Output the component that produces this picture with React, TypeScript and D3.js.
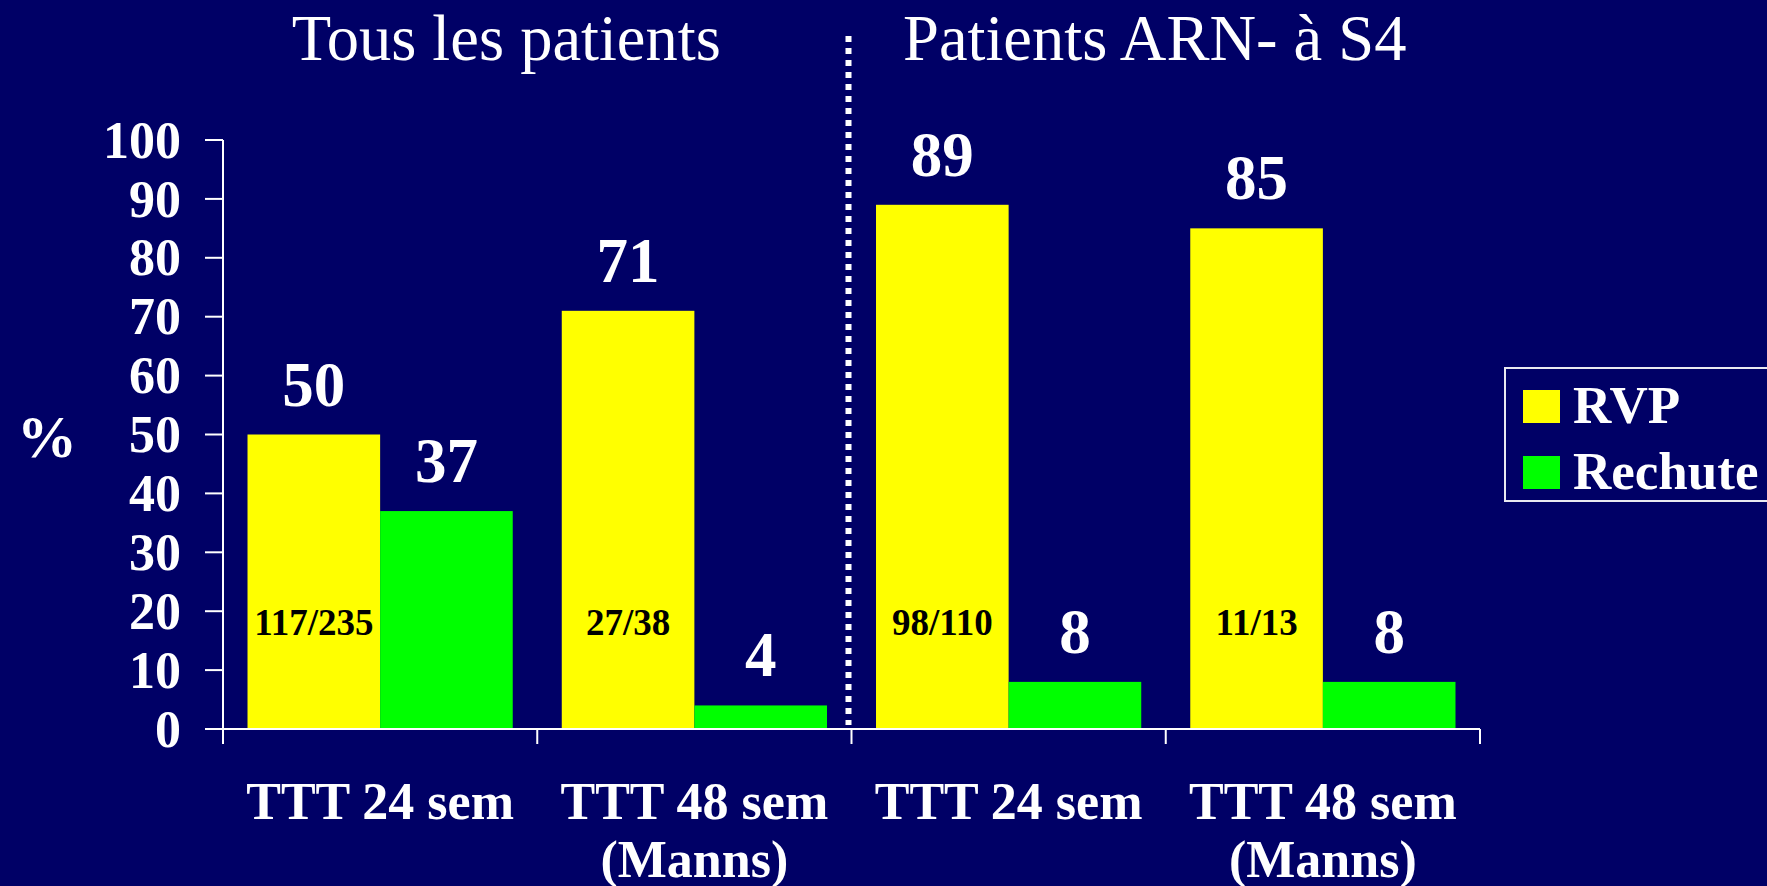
import React from "react";
import * as d3 from "d3";

const categories: string[][] = [
  ["TTT 24 sem"],
  ["TTT 48 sem", "(Manns)"],
  ["TTT 24 sem"],
  ["TTT 48 sem", "(Manns)"],
];
const seriesNames = ["RVP", "Rechute"];
const rvp = [50, 71, 89, 85];
const rechute = [37, 4, 8, 8];
const fractions = ["117/235", "27/38", "98/110", "11/13"];
const yTicks = [0, 10, 20, 30, 40, 50, 60, 70, 80, 90, 100];
const panelTitles = ["Tous les patients", "Patients ARN- à S4"];

const W = 1767;
const H = 886;
const BG = "#000066";
const COLORS = ["#FFFF00", "#00FF00"];
const SERIF = "'Liberation Serif', 'Times New Roman', serif";

export default function App() {
  const x = d3
    .scaleBand<number>()
    .domain(categories.map((_, i) => i))
    .range([223, 1480])
    .paddingInner(0)
    .paddingOuter(0);
  const bw = x.bandwidth();
  const xs = d3
    .scaleBand<number>()
    .domain([0, 1])
    .range([bw * 0.078, bw * 0.922])
    .padding(0);
  const y = d3.scaleLinear().domain([0, 100]).range([729, 140]);

  const series = [rvp, rechute];
  const x0 = x.range()[0];
  const x1 = x.range()[1];
  const y0 = y(0);

  const boundaries = [...categories.map((_, i) => x(i)!), x1];
  const dividerX = x(2)! - 3;

  const titleX = [
    (x(0)! + x(1)! + bw) / 2 - 31,
    (x(2)! + x(3)! + bw) / 2 - 11,
  ];

  return (
    <div style={{ position: "fixed", left: 0, top: 0, width: W, height: H }}>
      <svg width={W} height={H} style={{ display: "block" }}>
        <rect x={0} y={0} width={W} height={H} fill={BG} />

        {/* titles */}
        {panelTitles.map((t, i) => (
          <text
            key={"t" + i}
            x={titleX[i]}
            y={60}
            textAnchor="middle"
            fill="#fff"
            fontFamily={SERIF}
            fontSize={64.5}
          >
            {t}
          </text>
        ))}

        {/* bars */}
        {series.map((vals, s) =>
          vals.map((v, i) => (
            <rect
              key={`b${s}-${i}`}
              x={x(i)! + xs(s)!}
              y={y(v)}
              width={xs.bandwidth()}
              height={y0 - y(v)}
              fill={COLORS[s]}
            />
          ))
        )}

        {/* value labels */}
        {series.map((vals, s) =>
          vals.map((v, i) => (
            <text
              key={`v${s}-${i}`}
              x={x(i)! + xs(s)! + xs.bandwidth() / 2}
              y={y(v) - 29}
              textAnchor="middle"
              fill="#fff"
              fontFamily={SERIF}
              fontWeight="bold"
              fontSize={63}
            >
              {v}
            </text>
          ))
        )}

        {/* fraction labels */}
        {fractions.map((f, i) => (
          <text
            key={"f" + i}
            x={x(i)! + xs(0)! + xs.bandwidth() / 2}
            y={y(16)}
            textAnchor="middle"
            fill="#000"
            fontFamily={SERIF}
            fontWeight="bold"
            fontSize={37}
          >
            {f}
          </text>
        ))}

        {/* dotted divider */}
        <line
          x1={dividerX}
          x2={dividerX}
          y1={36}
          y2={y0 - 4}
          stroke="#fff"
          strokeWidth={6}
          strokeDasharray="6 6"
        />

        {/* axes */}
        <line x1={x0} x2={x0} y1={y(100)} y2={y0 + 15} stroke="#fff" strokeWidth={2} />
        <line x1={x0} x2={x1} y1={y0} y2={y0} stroke="#fff" strokeWidth={2} />
        {boundaries.map((b, i) => (
          <line key={"xt" + i} x1={b} x2={b} y1={y0} y2={y0 + 15} stroke="#fff" strokeWidth={2} />
        ))}
        {yTicks.map((t) => (
          <g key={"yt" + t}>
            <line x1={x0 - 18} x2={x0} y1={y(t)} y2={y(t)} stroke="#fff" strokeWidth={2} />
            <text
              x={181}
              y={y(t)}
              dy="0.34em"
              textAnchor="end"
              fill="#fff"
              fontFamily={SERIF}
              fontWeight="bold"
              fontSize={52}
            >
              {t}
            </text>
          </g>
        ))}
        <text
          x={47}
          y={457}
          textAnchor="middle"
          fill="#fff"
          fontFamily={SERIF}
          fontWeight="bold"
          fontSize={60}
        >
          %
        </text>

        {/* category labels */}
        {categories.map((lines, i) => (
          <text
            key={"c" + i}
            x={x(i)! + bw / 2}
            y={819}
            textAnchor="middle"
            fill="#fff"
            fontFamily={SERIF}
            fontWeight="bold"
            fontSize={52}
          >
            {lines.map((l, j) => (
              <tspan key={j} x={x(i)! + bw / 2} dy={j === 0 ? 0 : 58}>
                {l}
              </tspan>
            ))}
          </text>
        ))}

        {/* legend */}
        <rect x={1505} y={368} width={300} height={133} fill="none" stroke="#e8e8f0" strokeWidth={2} />
        {seriesNames.map((n, s) => (
          <g key={"l" + s}>
            <rect x={1523} y={390 + s * 66} width={37} height={33} fill={COLORS[s]} />
            <text
              x={1573}
              y={423 + s * 66}
              fill="#fff"
              fontFamily={SERIF}
              fontWeight="bold"
              fontSize={53}
            >
              {n}
            </text>
          </g>
        ))}
      </svg>
    </div>
  );
}
